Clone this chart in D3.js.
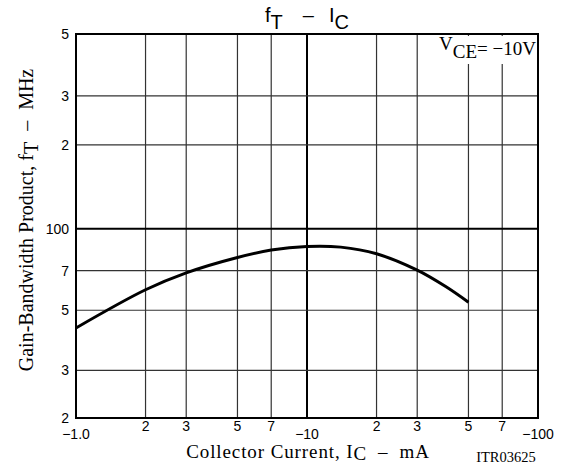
<!DOCTYPE html>
<html>
<head>
<meta charset="utf-8">
<script src="https://cdn.jsdelivr.net/npm/d3@7"></script>
<style>
  body { margin: 0; background: #fff; }
  svg { display: block; }
</style>
</head>
<body>
<div id="chart"></div>
<script>
// Collector current |Ic| (mA) and gain-bandwidth product fT (MHz)
const icValues = [1, 2, 3, 5, 7, 10, 14, 20, 30, 40, 50];
const ftValues = [43, 59.5, 68.7, 78.3, 83.4, 86, 85.5, 80.8, 70.3, 61, 53.5];

// Grid + tick labels
const xGrid = [2, 3, 5, 7, 10, 20, 30, 50, 70];
const xMinorLabels = [2, 3, 5, 7, 20, 30, 50, 70];
const xDecadeLabels = [[1, "\u22121.0"], [10, "\u221210"], [100, "\u2212100"]];
const yGrid = [30, 50, 70, 100, 200, 300];
const yLabels = [[20, "2"], [30, "3"], [50, "5"], [70, "7"], [100, "100"], [200, "2"], [300, "3"], [500, "5"]];

const SANS = "'Liberation Sans', Arial, sans-serif";
const SERIF = "'Liberation Serif', 'Times New Roman', serif";

const width = 562, height = 464;

const svg = d3.select("#chart")
  .append("svg")
  .attr("width", width)
  .attr("height", height);

// Scales (y axis is slightly uneven in the original, so split at 100)
const x = d3.scaleLog().domain([1, 100]).range([76, 538]);
const y = d3.scaleLog().domain([20, 100, 500]).range([418, 228.7, 34]);

const plotLeft = x(1), plotRight = x(100), plotTop = y(500), plotBottom = y(20);

// Vertical grid lines
svg.append("g")
  .selectAll("line")
  .data(xGrid)
  .join("line")
  .attr("x1", d => x(d))
  .attr("x2", d => x(d))
  .attr("y1", plotTop)
  .attr("y2", plotBottom)
  .style("stroke", d => d === 10 ? "#000" : "#333")
  .style("stroke-width", d => d === 10 ? 2 : 1.2);

// Horizontal grid lines
svg.append("g")
  .selectAll("line")
  .data(yGrid)
  .join("line")
  .attr("x1", plotLeft)
  .attr("x2", plotRight)
  .attr("y1", d => y(d))
  .attr("y2", d => y(d))
  .style("stroke", d => d === 100 ? "#000" : "#333")
  .style("stroke-width", d => d === 100 ? 2 : 1.2);

// White box behind the VCE note
svg.append("rect")
  .attr("x", 430)
  .attr("y", plotTop + 2)
  .attr("width", plotRight - 431)
  .attr("height", 28)
  .style("fill", "#fff");

// Frame
svg.append("rect")
  .attr("x", plotLeft)
  .attr("y", plotTop)
  .attr("width", plotRight - plotLeft)
  .attr("height", plotBottom - plotTop)
  .style("fill", "none")
  .style("stroke", "#000")
  .style("stroke-width", 2);

// Curve
const line = d3.line()
  .x((d, i) => x(icValues[i]))
  .y(d => y(d))
  .curve(d3.curveCatmullRom.alpha(0.5));

svg.append("path")
  .datum(ftValues)
  .attr("d", line)
  .style("fill", "none")
  .style("stroke", "#000")
  .style("stroke-width", 3);

// Y tick labels
svg.append("g")
  .selectAll("text")
  .data(yLabels)
  .join("text")
  .attr("x", 69)
  .attr("y", d => y(d[0]))
  .attr("dy", "0.35em")
  .attr("text-anchor", "end")
  .style("font-family", SANS)
  .style("font-size", "14px")
  .text(d => d[1]);

// X tick labels (2,3,5,7 sit higher than the decade labels)
svg.append("g")
  .selectAll("text")
  .data(xMinorLabels)
  .join("text")
  .attr("x", d => x(d))
  .attr("y", 431)
  .attr("text-anchor", "middle")
  .style("font-family", SANS)
  .style("font-size", "14px")
  .text(d => d % 10 === 0 ? d / 10 : d);

svg.append("g")
  .selectAll("text")
  .data(xDecadeLabels)
  .join("text")
  .attr("x", d => x(d[0]))
  .attr("y", 439)
  .attr("text-anchor", "middle")
  .style("font-family", SANS)
  .style("font-size", "14px")
  .text(d => d[1]);

// Title  fT - IC
const title = svg.append("text")
  .attr("x", 307)
  .attr("y", 22)
  .attr("text-anchor", "middle")
  .style("font-family", SANS)
  .style("font-size", "20px");
title.append("tspan").text("f");
title.append("tspan").attr("dy", 6.7).text("T");
title.append("tspan").attr("dx", 20).attr("dy", -6.7).text("\u2013");
title.append("tspan").attr("dx", 15).text("I");
title.append("tspan").attr("dy", 6.7).text("C");

// VCE note
const vce = svg.append("text")
  .attr("x", plotRight - 2)
  .attr("y", 50)
  .attr("text-anchor", "end")
  .style("font-family", SERIF)
  .style("font-size", "19px");
vce.append("tspan").text("V");
vce.append("tspan").attr("dy", 8).text("CE");
vce.append("tspan").attr("dy", -3).text("= \u221210V");

// X axis title
const xTitle = svg.append("text")
  .attr("x", 308)
  .attr("y", 457.5)
  .attr("text-anchor", "middle")
  .style("font-family", SERIF)
  .style("font-size", "19px")
  .style("letter-spacing", "0.9px");
xTitle.append("tspan").text("Collector Current, I");
xTitle.append("tspan").attr("dy", 2).text("C");
xTitle.append("tspan").attr("dx", 11).attr("dy", -2).text("\u2013");
xTitle.append("tspan").attr("dx", 11).text("mA");

// Y axis title
const yTitle = svg.append("text")
  .attr("transform", "translate(33,220) rotate(-90)")
  .attr("text-anchor", "middle")
  .style("font-family", SERIF)
  .style("font-size", "20px");
yTitle.append("tspan").text("Gain-Bandwidth Product, f");
yTitle.append("tspan").attr("dy", 5).text("T");
yTitle.append("tspan").attr("dx", 11).attr("dy", -5).text("\u2013");
yTitle.append("tspan").attr("dx", 11).text("MHz");

// Drawing number
svg.append("text")
  .attr("x", 506)
  .attr("y", 462)
  .attr("text-anchor", "middle")
  .style("font-family", SERIF)
  .style("font-size", "14.5px")
  .text("ITR03625");
</script>
</body>
</html>
